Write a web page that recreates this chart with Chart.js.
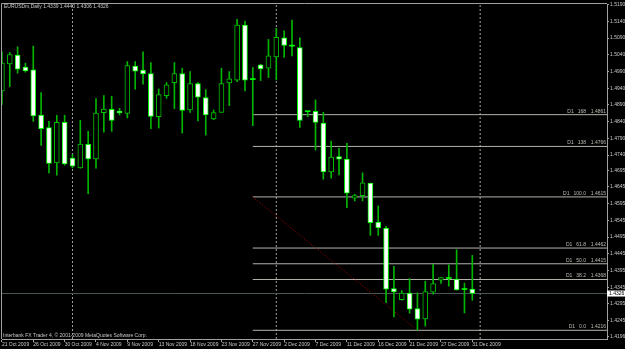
<!DOCTYPE html>
<html><head><meta charset="utf-8">
<script src="https://cdn.jsdelivr.net/npm/chart.js@4.4.0/dist/chart.umd.min.js"></script>
<style>html,body{margin:0;padding:0;background:#000;overflow:hidden}canvas{display:block}</style>
</head><body>
<canvas id="c" width="625" height="349"></canvas>
<script>
const symbolTitle = "EURUSDm,Daily";
const footerText = "Interbank FX Trader 4, \u00A9 2001-2009 MetaQuotes Software Corp.";
const dates = ["21 Oct 2009","22 Oct 2009","23 Oct 2009","25 Oct 2009","26 Oct 2009","27 Oct 2009","28 Oct 2009","29 Oct 2009","30 Oct 2009",
"1 Nov 2009","2 Nov 2009","3 Nov 2009","4 Nov 2009","5 Nov 2009","6 Nov 2009","8 Nov 2009","9 Nov 2009","10 Nov 2009","11 Nov 2009","12 Nov 2009","13 Nov 2009",
"15 Nov 2009","16 Nov 2009","17 Nov 2009","18 Nov 2009","19 Nov 2009","20 Nov 2009","22 Nov 2009","23 Nov 2009","24 Nov 2009","25 Nov 2009","26 Nov 2009","27 Nov 2009",
"29 Nov 2009","30 Nov 2009","1 Dec 2009","2 Dec 2009","3 Dec 2009","4 Dec 2009","6 Dec 2009","7 Dec 2009","8 Dec 2009","9 Dec 2009","10 Dec 2009","11 Dec 2009",
"13 Dec 2009","14 Dec 2009","15 Dec 2009","16 Dec 2009","17 Dec 2009","18 Dec 2009","20 Dec 2009","21 Dec 2009","22 Dec 2009","23 Dec 2009","24 Dec 2009",
"27 Dec 2009","28 Dec 2009","29 Dec 2009","30 Dec 2009","31 Dec 2009"];
const opens  = [1.4932,1.5013,1.5039,1.5003,1.4995,1.4860,1.4822,1.4717,1.4838,1.4731,1.4702,1.4772,1.4729,1.4867,1.4877,1.4872,1.4865,1.5006,1.4994,1.4984,1.4855,
1.4918,1.4957,1.4984,1.4875,1.4954,1.4912,1.4848,1.4868,1.4956,1.4964,1.5129,1.4966,1.5010,1.5000,1.5034,1.5091,1.5066,1.5062,1.4870,1.4871,
1.4836,1.4690,1.4736,1.4728,1.4611,1.4619,1.4656,1.4540,1.4522,1.4341,1.4308,1.4327,1.4281,1.4250,1.4330,1.4366,1.4371,1.4369,1.4338,1.4339];
const highs  = [1.5049,1.5047,1.5064,1.5015,1.5066,1.4927,1.4841,1.4859,1.4859,1.4742,1.4844,1.4811,1.4909,1.4918,1.4916,1.4880,1.5020,1.5020,1.5049,1.5017,1.4938,
1.4957,1.5017,1.5000,1.4990,1.4957,1.4936,1.4875,1.5000,1.4990,1.5146,1.5141,1.5002,1.5012,1.5086,1.5119,1.5112,1.5144,1.5091,1.4871,1.4905,
1.4868,1.4782,1.4760,1.4775,1.4623,1.4687,1.4656,1.4588,1.4527,1.4407,1.4335,1.4371,1.4328,1.4363,1.4413,1.4374,1.4412,1.4457,1.4357,1.4440];
const lows   = [1.4892,1.4945,1.4985,1.4988,1.4841,1.4769,1.4687,1.4680,1.4710,1.4702,1.4701,1.4625,1.4701,1.4809,1.4811,1.4860,1.4851,1.4937,1.4952,1.4819,1.4821,
1.4910,1.4879,1.4806,1.4868,1.4842,1.4800,1.4846,1.4868,1.4888,1.4960,1.4932,1.4828,1.4963,1.4972,1.4965,1.5032,1.5037,1.4823,1.4855,1.4755,
1.4668,1.4671,1.4681,1.4583,1.4603,1.4603,1.4500,1.4500,1.4299,1.4256,1.4306,1.4267,1.4216,1.4229,1.4324,1.4356,1.4348,1.4336,1.4268,1.4306];
const closes = [1.5015,1.5041,1.4997,1.4992,1.4857,1.4819,1.4715,1.4838,1.4714,1.4707,1.4773,1.4729,1.4866,1.4878,1.4844,1.4866,1.5008,1.4991,1.4983,1.4856,1.4921,
1.4950,1.4984,1.4874,1.4954,1.4913,1.4860,1.4867,1.4954,1.4968,1.5129,1.4964,1.4966,1.4998,1.5037,1.5092,1.5068,1.5066,1.4844,1.4870,1.4838,
1.4690,1.4734,1.4728,1.4626,1.4619,1.4657,1.4538,1.4522,1.4339,1.4331,1.4327,1.4279,1.4249,1.4332,1.4356,1.4374,1.4371,1.4337,1.4338,1.4326];
const priceTicks = [1.5190,1.5140,1.5090,1.5040,1.4990,1.4940,1.4890,1.4840,1.4790,1.4740,1.4695,1.4645,1.4595,1.4545,1.4495,1.4445,1.4395,1.4345,1.4295,1.4245,1.4196];
const dateTickIndex = [0,4,8,12,16,20,24,28,32,36,40,44,48,52,56,60];
const fibNames  = ["168","138","100.0","61.8","50.0","38.2","0.0"];
const fibPrices = [1.4861,1.4766,1.4615,1.4462,1.4415,1.4368,1.4216];
const fibStartIndex = 32;
const trendIndex = [32,53];
const trendPrice = [1.4615,1.4216];
const monthSeparators = [9,35,61];
const bidPrice = 1.4326;

const X_MIN = 0.01, X_MAX = 77.18, Y_MIN = 1.4190, Y_MAX = 1.5192;
const FONT = '"Liberation Sans", Arial, sans-serif';
const TXT = '#c8c8c8';

const datasets = [];
monthSeparators.forEach(s => datasets.push({type:'line', data:[{x:s,y:Y_MIN},{x:s,y:Y_MAX}], borderColor:'#a0a0a0', borderWidth:1, borderDash:[2,2], pointRadius:0, order:10}));
fibPrices.forEach(p => datasets.push({type:'line', data:[{x:fibStartIndex,y:p},{x:X_MAX,y:p}], borderColor:'#b4b4ac', borderWidth:1, pointRadius:0, order:9}));
datasets.push({type:'line', data:[{x:X_MIN,y:bidPrice},{x:X_MAX,y:bidPrice}], borderColor:'#4a5858', borderWidth:1, pointRadius:0, order:8});
datasets.push({type:'line', data:trendIndex.map((t,i)=>({x:t,y:trendPrice[i]})), borderColor:'#b00000', borderWidth:1, borderDash:[1,2], pointRadius:0, order:7});
datasets.push({type:'bar', data:highs.map((h,i)=>({x:i,y:[lows[i],h]})), grouped:false, barThickness:1, backgroundColor:'#00b400', borderWidth:0, order:5});
datasets.push({type:'bar', data:opens.map((o,i)=>({x:i,y:[o,closes[i]]})), grouped:false, barThickness:5, minBarLength:1, borderSkipped:false,
  backgroundColor: c => { const i=c.dataIndex; return closes[i]<opens[i] ? '#ffffff' : (closes[i]>opens[i] ? '#000000' : '#00ff00'); },
  borderColor: c => { const i=c.dataIndex; return closes[i]<opens[i] ? '#00ff00' : '#00c000'; },
  borderWidth: c => { const i=c.dataIndex; return closes[i]===opens[i] ? 0 : 1; },
  order:4});

const overlay = {
  id:'overlay',
  afterDraw(chart){
    const {ctx, chartArea:a, scales:{y}} = chart;
    ctx.save();
    ctx.strokeStyle='#a0a0a0'; ctx.lineWidth=1;
    ctx.beginPath(); ctx.moveTo(a.left-0.5, a.bottom); ctx.lineTo(a.left-0.5, a.top-0.5); ctx.lineTo(a.right, a.top-0.5); ctx.stroke();
    ctx.font = '5px '+FONT; ctx.fillStyle=TXT; ctx.textBaseline='middle'; ctx.textAlign='left';
    const n = closes.length-1;
    ctx.fillText(`${symbolTitle} ${opens[n].toFixed(4)} ${highs[n].toFixed(4)} ${lows[n].toFixed(4)} ${closes[n].toFixed(4)}`, a.left+2, a.top+3);
    ctx.fillText(footerText, a.left+1, a.bottom-3.5);
    ctx.fillStyle='#bdbdb5';
    fibPrices.forEach((p,i)=>{
      const py = y.getPixelForValue(p) - 1;
      ctx.textBaseline='bottom'; ctx.textAlign='right';
      ctx.fillText(p.toFixed(4), a.right-1, py);
      const lvlR = a.right-21;
      ctx.fillText(fibNames[i], lvlR, py);
      ctx.fillText('D1', lvlR - ctx.measureText(fibNames[i]).width - 4, py);
    });
    const by = y.getPixelForValue(bidPrice);
    ctx.fillStyle='#ffffff'; ctx.fillRect(a.right, by-3, 18, 6);
    ctx.fillStyle='#000000'; ctx.textAlign='left'; ctx.textBaseline='middle';
    ctx.fillText(bidPrice.toFixed(4), a.right+2, by);
    ctx.restore();
  }
};

Chart.defaults.font.family = FONT;
new Chart(document.getElementById('c'), {
  type:'bar',
  data:{datasets},
  options:{
    responsive:false, animation:false, devicePixelRatio:1,
    layout:{padding:{left:2, top:2, right:0, bottom:0}},
    plugins:{legend:{display:false}, tooltip:{enabled:false}},
    scales:{
      x:{type:'linear', position:'bottom', min:X_MIN, max:X_MAX, offset:false,
        afterBuildTicks: s => { s.ticks = dateTickIndex.map(v=>({value:v})); },
        afterFit: s => { s.height = 10; },
        ticks:{color:TXT, font:{size:5}, padding:0, align:'start', maxRotation:0, autoSkip:false, callback: v => dates[v]},
        grid:{drawOnChartArea:false, tickLength:3, color:'#a0a0a0', offset:false},
        border:{color:'#a0a0a0'}},
      y:{type:'linear', position:'right', min:Y_MIN, max:Y_MAX,
        afterBuildTicks: s => { s.ticks = priceTicks.map(v=>({value:v})); },
        afterFit: s => { s.width = 18; },
        ticks:{color:TXT, font:{size:5}, padding:1, autoSkip:false, callback: v => Number(v).toFixed(4)},
        grid:{drawOnChartArea:false, tickLength:2, color:'#a0a0a0'},
        border:{color:'#a0a0a0'}}
    }
  },
  plugins:[overlay]
});
</script>
</body></html>
